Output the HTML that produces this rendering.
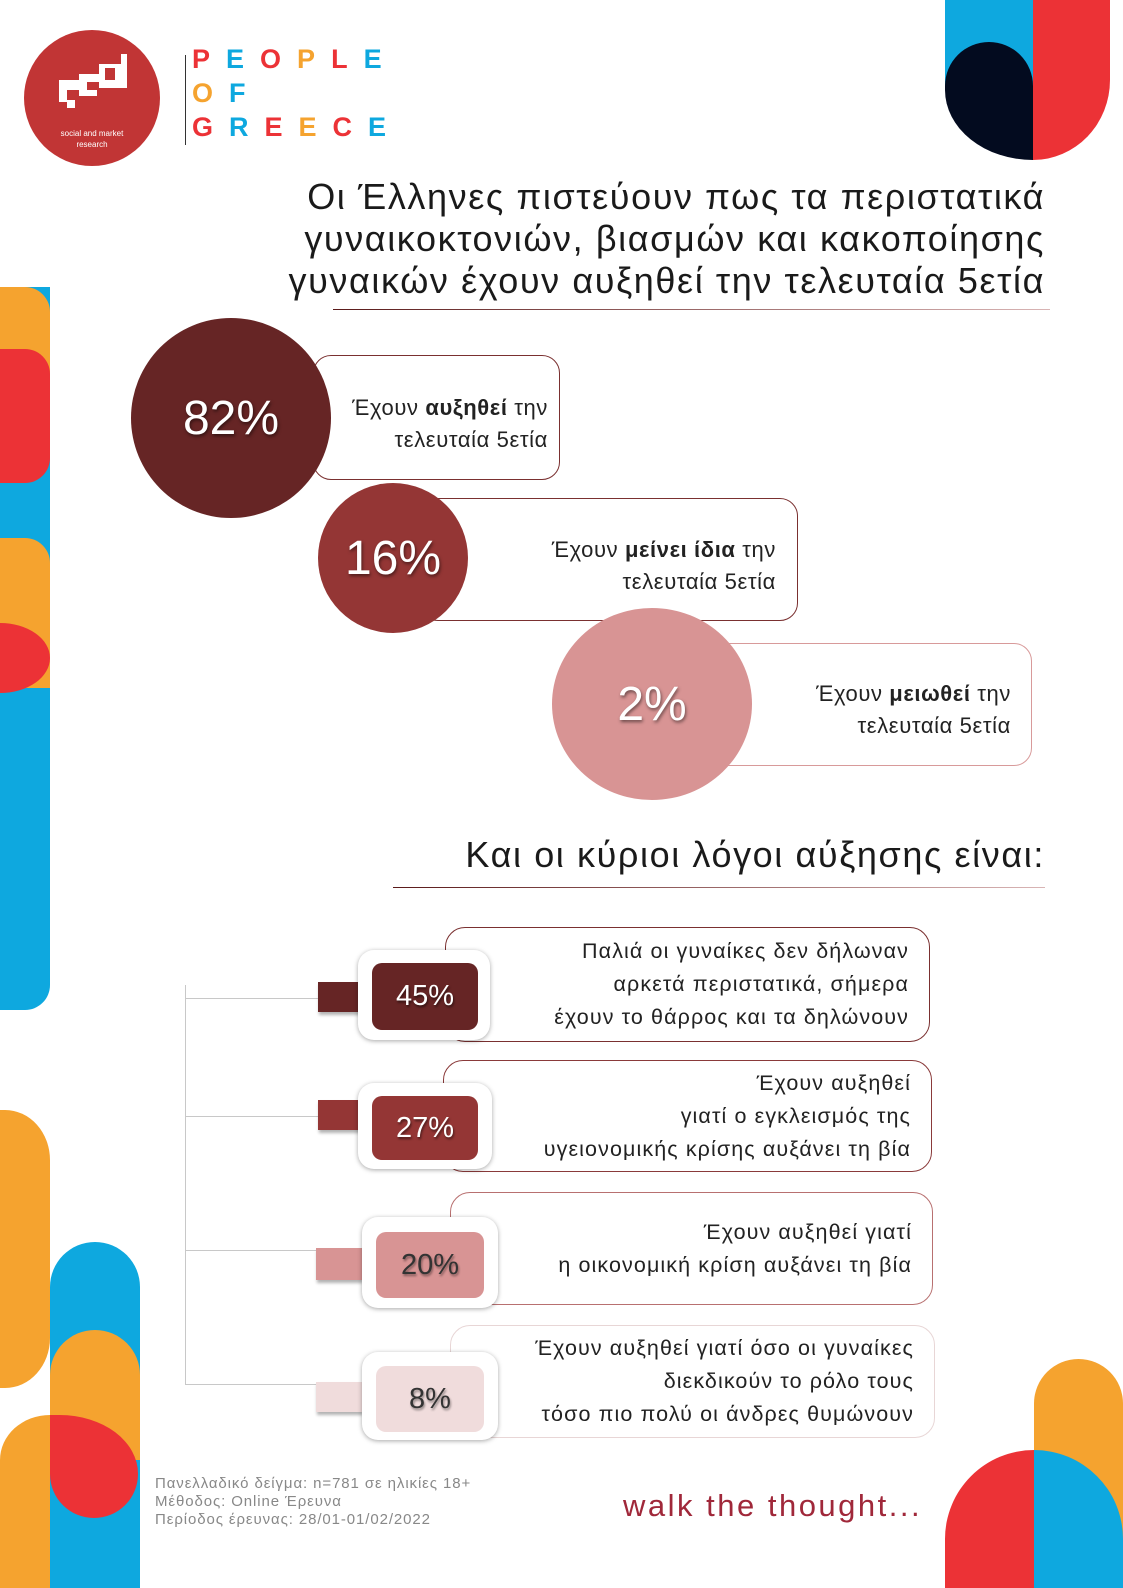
<!DOCTYPE html>
<html><head><meta charset="utf-8"><style>
*{margin:0;padding:0;box-sizing:border-box}
body{width:1123px;height:1588px;position:relative;background:#fff;overflow:hidden;font-family:"Liberation Sans","DejaVu Sans",sans-serif;color:#222}
.a{position:absolute}
.t{font-size:36px;color:#1a1a1a;text-align:right;right:78px;line-height:42px;letter-spacing:1.6px;white-space:nowrap}
.c{border-radius:50%;color:#fff;font-size:48px;display:flex;align-items:center;justify-content:center;text-shadow:1px 2px 3px rgba(0,0,0,.5)}
.box{border:1px solid #7a3030;border-radius:18px;background:#fff}
.bt{font-size:22px;line-height:32px;text-align:right;letter-spacing:.6px}
.tab{box-shadow:1px 3px 3px rgba(0,0,0,.3)}
.card{background:#fff;border-radius:16px;box-shadow:0 1px 5px rgba(0,0,0,.35)}
.in{border-radius:10px;display:flex;align-items:center;justify-content:center;font-size:29px;color:#fff;text-shadow:1px 2px 2px rgba(0,0,0,.5)}
.tb{border:1px solid #7a3030;border-radius:20px;background:#fff;font-size:21.5px;line-height:33px;text-align:right;padding-right:20px;display:flex;align-items:center;justify-content:flex-end;color:#222;letter-spacing:1.1px;white-space:nowrap}
.ln{background:#c8c8c8}
.P{font-size:27px;font-weight:bold;letter-spacing:16px;line-height:34px}
</style></head><body>
<!-- left decorations -->
<div class="a" style="left:0;top:287px;width:50px;height:723px;background:#0ea8df;border-radius:0 0 25px 0"></div>
<div class="a" style="left:0;top:287px;width:50px;height:130px;background:#f5a32f;border-radius:0 25px 0 0"></div>
<div class="a" style="left:0;top:349px;width:50px;height:134px;background:#ec3236;border-radius:0 25px 25px 0"></div>
<div class="a" style="left:0;top:538px;width:50px;height:150px;background:#f5a32f;border-radius:0 25px 0 0"></div>
<div class="a" style="left:0;top:623px;width:50px;height:70px;background:#ec3236;border-radius:0 50px 50px 0/0 35px 35px 0"></div>
<!-- bottom-left -->
<div class="a" style="left:0;top:1110px;width:50px;height:278px;background:#f5a32f;border-radius:0 45px 45px 0/0 50px 50px 0"></div>
<div class="a" style="left:50px;top:1242px;width:90px;height:346px;background:#0ea8df;border-radius:45px 45px 0 0"></div>
<div class="a" style="left:50px;top:1330px;width:90px;height:130px;background:#f5a32f;border-radius:45px 45px 0 0"></div>
<div class="a" style="left:50px;top:1415px;width:88px;height:103px;background:#ec3236;border-radius:0 80px 45px 45px/0 60px 45px 45px"></div>
<div class="a" style="left:0;top:1415px;width:50px;height:173px;background:#f5a32f;border-radius:50px 0 0 0/45px 0 0 0"></div>
<!-- top-right -->
<div class="a" style="left:945px;top:0;width:88px;height:90px;background:#0ea8df"></div>
<div class="a" style="left:1033px;top:0;width:77px;height:160px;background:#ec3236;border-radius:0 0 77px 0/0 0 80px 0"></div>
<div class="a" style="left:945px;top:42px;width:88px;height:118px;background:#030b1f;border-radius:44px 44px 0 88px/44px 44px 0 70px"></div>
<!-- bottom-right -->
<div class="a" style="left:1034px;top:1359px;width:89px;height:229px;background:#f5a32f;border-radius:45px 45px 0 0"></div>
<div class="a" style="left:945px;top:1450px;width:89px;height:138px;background:#ec3236;border-radius:89px 0 0 0/89px 0 0 0"></div>
<div class="a" style="left:1034px;top:1450px;width:89px;height:138px;background:#0ea8df;border-radius:0 89px 0 0/0 89px 0 0"></div>
<!-- logo -->
<div class="a" style="left:24px;top:30px;width:136px;height:136px;border-radius:50%;background:#c13535;color:#fff;text-align:center">
 <svg class="a" style="left:30px;top:22px" width="80" height="70" viewBox="0 0 80 70"><path d="M5 28h22v10H13v10h8v8h-8v-6H5z M25 22h24v8H33v8h10v6H25z M45 12h22V2h6v34H45z M51 16v12h10V16z" fill="#fff"/></svg>
 <div class="a" style="left:0;width:136px;top:98px;font-size:8px;line-height:11px">social and market<br>research</div>
</div>
<div class="a" style="left:185px;top:55px;width:1px;height:90px;background:#333"></div>
<div class="a P" style="left:192px;top:42px;color:#ec3236">P<span style="color:#0ea8df">E</span>O<span style="color:#f5a32f">P</span>L<span style="color:#0ea8df">E</span></div>
<div class="a P" style="left:192px;top:76px;color:#f5a32f">O<span style="color:#0ea8df">F</span></div>
<div class="a P" style="left:192px;top:110px;color:#ec3236">G<span style="color:#0ea8df">R</span>E<span style="color:#f5a32f">E</span>C<span style="color:#0ea8df">E</span></div>
<!-- title -->
<div class="a t" style="top:176px">Οι Έλληνες πιστεύουν πως τα περιστατικά<br>γυναικοκτονιών, βιασμών και κακοποίησης<br>γυναικών έχουν αυξηθεί την τελευταία 5ετία</div>
<div class="a" style="left:333px;top:309px;width:717px;height:1px;background:linear-gradient(90deg,#5a1a1a,#d9b5b5)"></div>
<!-- circles -->
<div class="a box" style="left:313px;top:355px;width:247px;height:125px"></div>
<div class="a bt" style="left:300px;top:392px;width:248px">Έχουν <b>αυξηθεί</b> την<br>τελευταία 5ετία</div>
<div class="a c" style="left:131px;top:318px;width:200px;height:200px;background:#662525">82%</div>
<div class="a box" style="left:420px;top:498px;width:378px;height:123px"></div>
<div class="a bt" style="left:420px;top:534px;width:356px">Έχουν <b>μείνει ίδια</b> την<br>τελευταία 5ετία</div>
<div class="a c" style="left:318px;top:483px;width:150px;height:150px;background:#943635">16%</div>
<div class="a box" style="left:690px;top:643px;width:342px;height:123px;border-color:#d89a9a"></div>
<div class="a bt" style="left:690px;top:678px;width:321px">Έχουν <b>μειωθεί</b> την<br>τελευταία 5ετία</div>
<div class="a c" style="left:552px;top:608px;width:200px;height:192px;background:#d89494">2%</div>
<!-- second heading -->
<div class="a t" style="top:834px">Και οι κύριοι λόγοι αύξησης είναι:</div>
<div class="a" style="left:393px;top:887px;width:652px;height:1px;background:linear-gradient(90deg,#5a1a1a,#d9b5b5)"></div>
<!-- tree -->
<div class="a ln" style="left:185px;top:985px;width:1px;height:400px"></div>
<div class="a ln" style="left:185px;top:998px;width:135px;height:1px"></div>
<div class="a ln" style="left:185px;top:1116px;width:135px;height:1px"></div>
<div class="a ln" style="left:185px;top:1250px;width:135px;height:1px"></div>
<div class="a ln" style="left:185px;top:1384px;width:135px;height:1px"></div>

<div class="a tb" style="left:445px;top:927px;width:485px;height:115px">Παλιά οι γυναίκες δεν δήλωναν<br>αρκετά περιστατικά, σήμερα<br>έχουν το θάρρος και τα δηλώνουν</div>
<div class="a tab" style="left:318px;top:982px;width:42px;height:30px;background:#662525"></div>
<div class="a card" style="left:358px;top:950px;width:132px;height:90px"></div>
<div class="a in" style="left:372px;top:963px;width:106px;height:67px;background:#662525">45%</div>

<div class="a tb" style="left:443px;top:1060px;width:489px;height:112px;border-color:#8a3a3a">Έχουν αυξηθεί<br>γιατί ο εγκλεισμός της<br>υγειονομικής κρίσης αυξάνει τη βία</div>
<div class="a tab" style="left:318px;top:1100px;width:42px;height:30px;background:#943635"></div>
<div class="a card" style="left:358px;top:1083px;width:134px;height:86px"></div>
<div class="a in" style="left:372px;top:1096px;width:106px;height:64px;background:#943635">27%</div>

<div class="a tb" style="left:450px;top:1192px;width:483px;height:113px;border-color:#b87070">Έχουν αυξηθεί γιατί<br>η οικονομική κρίση αυξάνει τη βία</div>
<div class="a tab" style="left:316px;top:1248px;width:46px;height:32px;background:#d89494"></div>
<div class="a card" style="left:362px;top:1217px;width:136px;height:91px"></div>
<div class="a in" style="left:376px;top:1232px;width:108px;height:66px;background:#d89494;color:#333;text-shadow:1px 2px 2px rgba(0,0,0,.4)">20%</div>

<div class="a tb" style="left:450px;top:1325px;width:485px;height:113px;border-color:#e8d6d6">Έχουν αυξηθεί γιατί όσο οι γυναίκες<br>διεκδικούν το ρόλο τους<br>τόσο πιο πολύ οι άνδρες θυμώνουν</div>
<div class="a tab" style="left:316px;top:1382px;width:46px;height:30px;background:#f0dcdc"></div>
<div class="a card" style="left:362px;top:1352px;width:136px;height:88px"></div>
<div class="a in" style="left:376px;top:1366px;width:108px;height:66px;background:#f0dcdc;color:#333;text-shadow:1px 2px 2px rgba(0,0,0,.4)">8%</div>
<!-- footer -->
<div class="a" style="left:155px;top:1475px;font-size:15px;line-height:18px;color:#888;letter-spacing:.9px;white-space:nowrap">Πανελλαδικό δείγμα: n=781 σε ηλικίες 18+<br>Μέθοδος: Online Έρευνα<br>Περίοδος έρευνας: 28/01-01/02/2022</div>
<div class="a" style="left:623px;top:1488px;font-size:31px;color:#a0283a;letter-spacing:2.5px;white-space:nowrap">walk the thought...</div>
</body></html>
